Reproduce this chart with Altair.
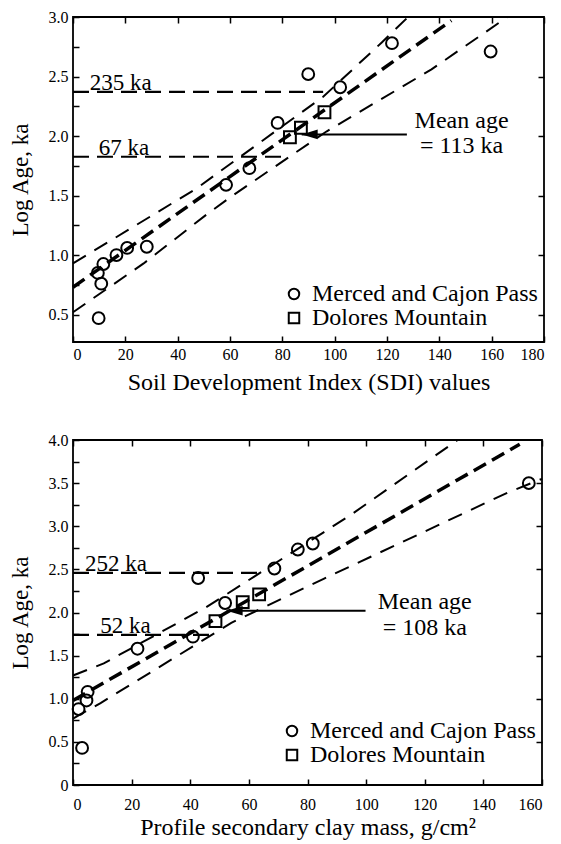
import altair as alt
import pandas as pd

FONT = "Liberation Serif"

# ---------------- Upper panel: Soil Development Index ----------------
sdi_merced_x = [9.8, 9.5, 10.8, 11.6, 16.6, 20.7, 28.2, 58.5, 67.4, 78.2, 89.9, 102.1, 121.9, 159.6]
sdi_merced_y = [0.47, 0.85, 0.76, 0.925, 1.00, 1.06, 1.07, 1.59, 1.73, 2.11, 2.52, 2.41, 2.78, 2.71]
sdi_dolores_x = [82.9, 87.1, 96.1]
sdi_dolores_y = [1.99, 2.07, 2.20]

sdi_fit_x = [0, 144.6]
sdi_fit_y = [0.73, 2.97]
sdi_upper_x = [0, 47, 95.6, 118, 127.6]
sdi_upper_y = [0.93, 1.557, 2.33, 2.786, 2.99]
sdi_lower_x = [0, 27, 51, 61, 97, 137, 166]
sdi_lower_y = [0.52, 0.93, 1.34, 1.50, 2.04, 2.56, 3.0]

sdi_age_labels = ["235 ka", "67 ka"]
sdi_age_levels = [2.371, 1.826]
sdi_age_ends = [95.6, 82.0]
sdi_mean_lines = ["Mean age", "= 113 ka"]

# ---------------- Lower panel: secondary clay mass ----------------
clay_merced_x = [3.1, 1.9, 4.6, 5.0, 22.0, 40.9, 42.7, 51.9, 68.7, 76.7, 81.8, 155.5]
clay_merced_y = [0.43, 0.88, 0.98, 1.08, 1.58, 1.72, 2.40, 2.11, 2.51, 2.73, 2.80, 3.50]
clay_dolores_x = [48.6, 57.9, 63.5]
clay_dolores_y = [1.90, 2.12, 2.21]

clay_fit_x = [0, 152.4]
clay_fit_y = [0.98, 3.95]
clay_upper_x = [0, 10.5, 45.4, 85.5, 95.1, 131.2]
clay_upper_y = [1.27, 1.41, 2.06, 2.93, 3.14, 4.0]
clay_lower_x = [0, 9.4, 54, 85.5, 148.3, 160]
clay_lower_y = [0.77, 0.95, 1.88, 2.39, 3.39, 3.55]

clay_age_labels = ["252 ka", "52 ka"]
clay_age_levels = [2.46, 1.74]
clay_age_ends = [64.0, 48.4]
clay_mean_lines = ["Mean age", "= 108 ka"]

SITES = ["Merced and Cajon Pass", "Dolores Mountain"]


def panel(cfg):
    xs = alt.Scale(domain=cfg["xdom"], nice=False, zero=False)
    ys = alt.Scale(domain=cfg["ydom"], nice=False, zero=False)

    pts = pd.DataFrame({
        "x": cfg["mx"] + cfg["dx"],
        "y": cfg["my"] + cfg["dy"],
        "site": [SITES[0]] * len(cfg["mx"]) + [SITES[1]] * len(cfg["dx"]),
    })

    y_label_expr = ("datum.value == 0 ? '0' : (datum.value % 0.5 == 0 ? format(datum.value, '.1f') : '')")

    x_main = alt.Axis(orient="bottom", values=cfg["xticks"], format="d", offset=-6, tickSize=6,
                      tickWidth=1.5, tickColor="black", domain=False, grid=False,
                      labelPadding=cfg["xlabpad"], labelFont=FONT, labelFontSize=16, labelColor="black",
                      title=cfg["xtitle"], titleFont=FONT, titleFontSize=24, titleFontWeight="normal",
                      titleColor="black", titlePadding=cfg["xtitlepad"])
    y_main = alt.Axis(orient="left", values=cfg["yticks"], labelExpr=y_label_expr, offset=-6, tickSize=6,
                      tickWidth=1.5, tickColor="black", domain=False, grid=False,
                      labelPadding=5, labelFont=FONT, labelFontSize=16, labelColor="black",
                      title="Log Age, ka", titleFont=FONT, titleFontSize=23, titleFontWeight="normal",
                      titleColor="black", titlePadding=cfg["ytitlepad"])
    x_top = alt.Axis(orient="top", values=cfg["xticks"], offset=-6, tickSize=6, tickWidth=1.5,
                     tickColor="black", domain=False, grid=False, labels=False, title=None)
    y_right = alt.Axis(orient="right", values=cfg["yticks_right"], offset=-6, tickSize=6, tickWidth=1.5,
                       tickColor="black", domain=False, grid=False, labels=False, title=None)

    points = alt.Chart(pts).mark_point(filled=False, size=140, strokeWidth=2, color="black", opacity=1).encode(
        x=alt.X("x:Q", scale=xs, axis=x_main),
        y=alt.Y("y:Q", scale=ys, axis=y_main),
        shape=alt.Shape("site:N", scale=alt.Scale(domain=SITES, range=["circle", "square"]),
                        legend=alt.Legend(orient="none", legendX=cfg["legx"], legendY=cfg["legy"],
                                          title=None,
                                          labelFont=FONT, labelFontSize=24, labelColor="black",
                                          labelLimit=400,
                                          symbolSize=110, symbolStrokeWidth=2, symbolStrokeColor="black",
                                          symbolFillColor="transparent", labelOffset=6, rowPadding=0,
                                          padding=0)),
    )

    fit = pd.DataFrame({"x": cfg["fx"], "y": cfg["fy"]})
    fit_line = alt.Chart(fit).mark_line(color="black", strokeWidth=3.5, strokeDash=[14, 7]).encode(
        x=alt.X("x:Q", scale=xs, axis=x_top),
        y=alt.Y("y:Q", scale=ys, axis=y_right),
    )

    def plain(df, mark):
        return alt.Chart(df).mark_line(**mark).encode(
            x=alt.X("x:Q", scale=xs, axis=None),
            y=alt.Y("y:Q", scale=ys, axis=None),
        )

    upper = plain(pd.DataFrame({"x": cfg["ux"], "y": cfg["uy"]}),
                  dict(color="black", strokeWidth=2, strokeDash=[15, 10]))
    lower = plain(pd.DataFrame({"x": cfg["lx"], "y": cfg["ly"]}),
                  dict(color="black", strokeWidth=2, strokeDash=[15, 10]))

    hl = pd.DataFrame({"x": [0] * len(cfg["levels"]), "x2": cfg["ends"], "y": cfg["levels"],
                       "label": cfg["labels"], "tx": cfg["label_x"]})
    hlines = alt.Chart(hl).mark_rule(color="black", strokeWidth=2.2, strokeDash=[16, 8]).encode(
        x=alt.X("x:Q", scale=xs, axis=None), x2="x2:Q", y=alt.Y("y:Q", scale=ys, axis=None))
    hlabels = alt.Chart(hl).mark_text(font=FONT, fontSize=23, align="left", baseline="alphabetic",
                                      dy=-2, color="black").encode(
        x=alt.X("tx:Q", scale=xs, axis=None), y=alt.Y("y:Q", scale=ys, axis=None), text="label:N")

    mean_df = pd.DataFrame({"t": cfg["mean_lines"], "x": [cfg["mean_x"]] * 2, "y": cfg["mean_y"]})
    mean_text = alt.Chart(mean_df).mark_text(font=FONT, fontSize=24, align="center",
                                             baseline="alphabetic", color="black").encode(
        x=alt.X("x:Q", scale=xs, axis=None), y=alt.Y("y:Q", scale=ys, axis=None), text="t:N")

    arr = pd.DataFrame({"x": [cfg["arrow_tip"]], "x2": [cfg["arrow_end"]], "y": [cfg["arrow_y"]]})
    arrow_line = alt.Chart(arr).mark_rule(color="black", strokeWidth=2).encode(
        x=alt.X("x:Q", scale=xs, axis=None), x2="x2:Q", y=alt.Y("y:Q", scale=ys, axis=None))
    arrow_head = alt.Chart(arr).mark_point(shape="M 0 0 L 2 -0.6 L 2 0.6 Z", filled=True, size=256,
                                           color="black", opacity=1).encode(
        x=alt.X("x:Q", scale=xs, axis=None), y=alt.Y("y:Q", scale=ys, axis=None))

    return alt.layer(points, fit_line, upper, lower, hlines, hlabels, mean_text, arrow_line, arrow_head).resolve_axis(
        x="independent", y="independent").properties(width=cfg["w"], height=cfg["h"])


top_cfg = dict(
    xdom=[0, 180], ydom=[0.27, 3.0], xticks=list(range(0, 181, 20)),
    yticks=[0.5, 0.75, 1.0, 1.25, 1.5, 1.75, 2.0, 2.25, 2.5, 2.75, 3.0],
    yticks_right=[0.5, 1.0, 1.5, 2.0, 2.5],
    xtitle="Soil Development Index (SDI) values", xlabpad=4, xtitlepad=8, ytitlepad=16,
    legx=209, legy=265,
    mx=sdi_merced_x, my=sdi_merced_y, dx=sdi_dolores_x, dy=sdi_dolores_y,
    fx=sdi_fit_x, fy=sdi_fit_y, ux=sdi_upper_x, uy=sdi_upper_y, lx=sdi_lower_x, ly=sdi_lower_y,
    levels=sdi_age_levels, ends=sdi_age_ends, labels=sdi_age_labels, label_x=[6.4, 9.8],
    mean_lines=sdi_mean_lines, mean_x=148.5, mean_y=[2.07, 1.857],
    arrow_tip=87.4, arrow_end=127.6, arrow_y=2.014,
    w=471, h=325,
)

bottom_cfg = dict(
    xdom=[0, 160], ydom=[0, 4.0], xticks=list(range(0, 161, 20)),
    yticks=[0, 0.25, 0.5, 0.75, 1.0, 1.25, 1.5, 1.75, 2.0, 2.25, 2.5, 2.75, 3.0, 3.25, 3.5, 3.75, 4.0],
    yticks_right=[0.5, 1.0, 1.5, 2.0, 2.5, 3.0, 3.5],
    xtitle="Profile secondary clay mass, g/cm²", xlabpad=11, xtitlepad=3, ytitlepad=16,
    legx=207, legy=279,
    mx=clay_merced_x, my=clay_merced_y, dx=clay_dolores_x, dy=clay_dolores_y,
    fx=clay_fit_x, fy=clay_fit_y, ux=clay_upper_x, uy=clay_upper_y, lx=clay_lower_x, ly=clay_lower_y,
    levels=clay_age_levels, ends=clay_age_ends, labels=clay_age_labels, label_x=[4.1, 9.3],
    mean_lines=clay_mean_lines, mean_x=120.0, mean_y=[2.04, 1.74],
    arrow_tip=52.4, arrow_end=99.8, arrow_y=2.02,
    w=469, h=345,
)

chart = alt.vconcat(panel(top_cfg), panel(bottom_cfg), spacing=36).resolve_legend(
    shape="independent"
).configure(
    padding={"left": 0, "top": 0, "right": 5, "bottom": 5},
    background="white",
).configure_view(stroke="black", strokeWidth=1.8)

chart.save("out.html", embed_options={"renderer": "svg", "actions": False})
